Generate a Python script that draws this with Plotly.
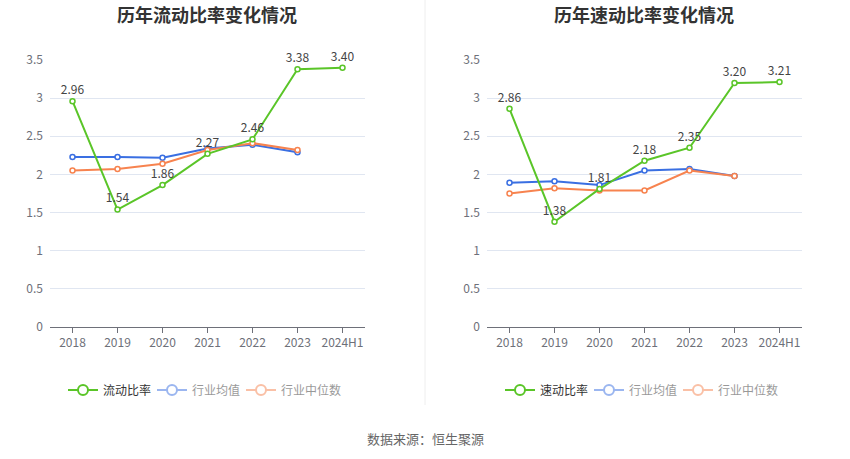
import plotly.graph_objects as go
from plotly.subplots import make_subplots

# data
years = ["2018", "2019", "2020", "2021", "2022", "2023", "2024H1"]

current_ratio = [2.96, 1.54, 1.86, 2.27, 2.46, 3.38, 3.40]
current_ind_avg = [2.23, 2.23, 2.22, 2.34, 2.39, 2.29]
current_ind_median = [2.05, 2.07, 2.14, 2.32, 2.41, 2.32]

quick_ratio = [2.86, 1.38, 1.81, 2.18, 2.35, 3.20, 3.21]
quick_ind_avg = [1.89, 1.91, 1.86, 2.05, 2.07, 1.98]
quick_ind_median = [1.75, 1.82, 1.79, 1.79, 2.05, 1.98]

titles = ["历年流动比率变化情况", "历年速动比率变化情况"]
main_names = ["流动比率", "速动比率"]
ind_names = ["行业均值", "行业中位数"]
source_text = "数据来源：恒生聚源"

GREEN = "#5ac528"
BLUE = "#3a6fe2"
ORANGE = "#f7834f"
FONT = "Noto Sans CJK SC"

fig = make_subplots(rows=1, cols=2)


def add_panel(col, main, avg, med, main_name, leg_a, leg_b):
    # real lines (no legend)
    fig.add_trace(go.Scatter(
        x=years[:len(avg)], y=avg, mode="lines+markers", showlegend=False,
        line=dict(color=BLUE, width=2),
        marker=dict(symbol="circle", size=5, color="white", line=dict(color=BLUE, width=1.5)),
        hoverinfo="skip"), row=1, col=col)
    fig.add_trace(go.Scatter(
        x=years[:len(med)], y=med, mode="lines+markers", showlegend=False,
        line=dict(color=ORANGE, width=2),
        marker=dict(symbol="circle", size=5, color="white", line=dict(color=ORANGE, width=1.5)),
        hoverinfo="skip"), row=1, col=col)
    fig.add_trace(go.Scatter(
        x=years, y=main, mode="lines+markers+text", showlegend=False,
        text=["%.2f" % v for v in main], textposition="top center",
        textfont=dict(family=FONT, size=12, color="#444"), cliponaxis=False,
        line=dict(color=GREEN, width=2),
        marker=dict(symbol="circle", size=5, color="white", line=dict(color=GREEN, width=1.5)),
        hoverinfo="skip"), row=1, col=col)

    # legend entries (dummy traces so the markers can be larger)
    for name, color, vis, leg in [(main_name, GREEN, True, leg_a),
                                  (ind_names[0], BLUE, "legendonly", leg_a),
                                  (ind_names[1], ORANGE, "legendonly", leg_b)]:
        fig.add_trace(go.Scatter(
            x=[None], y=[None], mode="lines+markers", name=name, visible=vis,
            legend=leg,
            line=dict(color=color, width=2),
            marker=dict(symbol="circle", size=10, color="white", line=dict(color=color, width=2))),
            row=1, col=col)


add_panel(1, current_ratio, current_ind_avg, current_ind_median, main_names[0], "legend", "legend2")
add_panel(2, quick_ratio, quick_ind_avg, quick_ind_median, main_names[1], "legend3", "legend4")

W, H = 850, 459
y_dom = [1 - 327 / H, 1 - 60 / H]
doms = [[50 / W, 365 / W], [487 / W, 802 / W]]

for i, ax in enumerate(["xaxis", "xaxis2"]):
    fig.layout[ax].update(
        domain=doms[i], type="category", showgrid=False, showline=True,
        linecolor="#6e7079", linewidth=1, ticks="outside", ticklen=5,
        tickcolor="#6e7079", range=[-0.5, 6.5], automargin=False,
        tickfont=dict(family=FONT, size=12, color="#6e7079"), fixedrange=True)
for ax in ["yaxis", "yaxis2"]:
    fig.layout[ax].update(
        domain=y_dom, range=[0, 3.5], dtick=0.5, showgrid=True,
        gridcolor="#e0e6f1", gridwidth=1, zeroline=False, showline=False,
        ticks="", ticklabelstandoff=6, automargin=False,
        tickfont=dict(family=FONT, size=12, color="#6e7079"), fixedrange=True)

legend_style = dict(orientation="h", yanchor="middle", y=1 - 390 / H, xanchor="left",
                    font=dict(family=FONT, size=12, color="#333"),
                    bgcolor="rgba(0,0,0,0)", itemwidth=30, tracegroupgap=0)
fig.update_layout(
    width=W, height=H, autosize=False, margin=dict(l=0, r=0, t=0, b=0, pad=0),
    paper_bgcolor="white", plot_bgcolor="white",
    font=dict(family=FONT),
    legend=dict(x=63 / W, entrywidth=44, entrywidthmode="pixels", **legend_style),
    legend2=dict(x=241 / W, **legend_style),
    legend3=dict(x=500 / W, entrywidth=44, entrywidthmode="pixels", **legend_style),
    legend4=dict(x=678 / W, **legend_style),
    annotations=[
        dict(text="<b>%s</b>" % titles[0], x=207 / W, y=1 - 14 / H, xref="paper", yref="paper",
             xanchor="center", yanchor="middle",
             showarrow=False, font=dict(family=FONT, size=18, color="#333")),
        dict(text="<b>%s</b>" % titles[1], x=644 / W, y=1 - 14 / H, xref="paper", yref="paper",
             xanchor="center", yanchor="middle",
             showarrow=False, font=dict(family=FONT, size=18, color="#333")),
        dict(text=source_text, x=0.5, y=1 - 438 / H, xref="paper", yref="paper",
             xanchor="center", yanchor="middle",
             showarrow=False, font=dict(family=FONT, size=13, color="#666")),
    ],
    shapes=[dict(type="line", xref="paper", yref="paper", x0=0.5, x1=0.5,
                 y0=1 - 405 / H, y1=1, line=dict(color="#eeeeee", width=1))],
)

fig.write_html("out.html", config={"displayModeBar": False},
               post_script="document.body.style.margin='0';document.body.style.overflow='hidden';")
